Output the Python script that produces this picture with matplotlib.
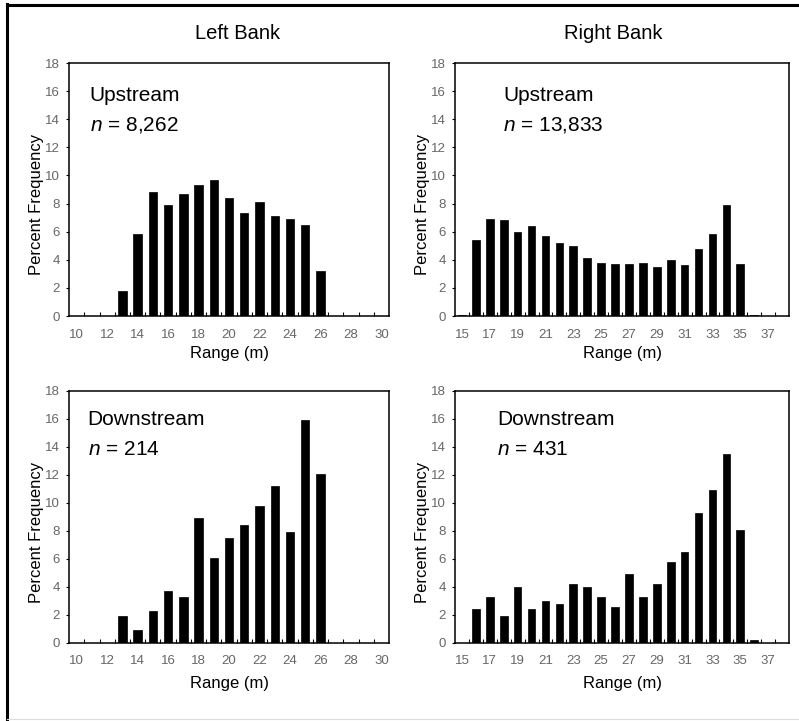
import matplotlib.pyplot as plt
from matplotlib.lines import Line2D
from matplotlib.ticker import FixedLocator

plt.rcParams['font.family'] = ['Liberation Sans', 'DejaVu Sans']
plt.rcParams['mathtext.fontset'] = 'custom'
plt.rcParams['mathtext.it'] = 'Liberation Sans:italic'
plt.rcParams['mathtext.rm'] = 'Liberation Sans'

# range classes (m)
left_range = list(range(10, 31))
right_range = list(range(15, 39))

# percent frequency per range class
left_up = [0, 0, 0, 1.8, 5.8, 8.8, 7.9, 8.7, 9.3, 9.7, 8.4, 7.3, 8.1, 7.1, 6.9, 6.5, 3.2, 0, 0, 0, 0]
right_up = [0.1, 5.4, 6.9, 6.8, 6.0, 6.4, 5.7, 5.2, 5.0, 4.1, 3.8, 3.7, 3.7, 3.8, 3.5, 4.0,
            3.6, 4.8, 5.8, 7.9, 3.7, 0.1, 0, 0]
left_down = [0, 0, 0, 1.9, 0.9, 2.3, 3.7, 3.3, 8.9, 6.1, 7.5, 8.4, 9.8, 11.2, 7.9, 15.9, 12.1, 0, 0, 0, 0]
right_down = [0, 2.4, 3.3, 1.9, 4.0, 2.4, 3.0, 2.8, 4.2, 4.0, 3.3, 2.6, 4.9, 3.3, 4.2, 5.8,
              6.5, 9.3, 10.9, 13.5, 8.1, 0.2, 0, 0]

n_left_up = '8,262'
n_right_up = '13,833'
n_left_down = '214'
n_right_down = '431'

fig = plt.figure(figsize=(7.99, 7.21), dpi=100)

# outer frame
fig.add_artist(Line2D([0.0088, 0.0088], [0, 0.994], color='black', lw=2.2, transform=fig.transFigure))
fig.add_artist(Line2D([0.0088, 1.0], [0.993, 0.993], color='black', lw=2.2, transform=fig.transFigure))
fig.add_artist(Line2D([0.0088, 1.0], [0.003, 0.003], color='#dddddd', lw=0.8, transform=fig.transFigure))

tick_col = '#666666'


def draw_panel(rect, cats, vals, site, n_txt, txt_x, txt_y, lab_x, xlab_pad):
    ax = fig.add_axes(rect)
    pos = list(range(len(cats)))
    ax.bar(pos, vals, width=0.55, color='black', edgecolor='black', linewidth=0.5)
    ax.set_xlim(-0.5, len(cats) - 0.5)
    ax.set_ylim(0, 18)
    ax.set_yticks(range(0, 19, 2))
    ax.set_xticks(pos[::2])
    ax.set_xticklabels([str(c) for c in cats[::2]])
    ax.xaxis.set_minor_locator(FixedLocator([p + 0.5 for p in pos[:-1]]))
    ax.tick_params(axis='x', which='major', length=0, pad=9, labelsize=9.5, labelcolor=tick_col)
    ax.tick_params(axis='x', which='minor', direction='in', length=3, width=0.8)
    ax.tick_params(axis='y', direction='out', length=2.5, width=0.8, pad=4,
                   labelsize=9.5, labelcolor=tick_col)
    for s in ax.spines.values():
        s.set_linewidth(1.1)
    ax.set_xlabel('Range (m)', fontsize=12, labelpad=xlab_pad)
    ax.set_ylabel('Percent Frequency', fontsize=12)
    ax.yaxis.set_label_coords(lab_x, 0.44)
    ax.text(txt_x, txt_y, site, transform=ax.transAxes, fontsize=15, va='center')
    ax.text(txt_x, txt_y - 0.118, r'$n$ = ' + n_txt, transform=ax.transAxes, fontsize=15, va='center')
    return ax


draw_panel([0.0864, 0.5617, 0.4005, 0.3509], left_range, left_up, 'Upstream', n_left_up,
           0.065, 0.873, -0.078, 4)
draw_panel([0.5695, 0.5617, 0.4180, 0.3509], right_range, right_up, 'Upstream', n_right_up,
           0.145, 0.873, -0.075, 4)
draw_panel([0.0864, 0.1082, 0.4005, 0.3495], left_range, left_down, 'Downstream', n_left_down,
           0.058, 0.885, -0.078, 6)
draw_panel([0.5695, 0.1082, 0.4180, 0.3495], right_range, right_down, 'Downstream', n_right_down,
           0.125, 0.885, -0.075, 6)

fig.text(0.297, 0.954, 'Left Bank', ha='center', va='center', fontsize=14.5)
fig.text(0.767, 0.954, 'Right Bank', ha='center', va='center', fontsize=14.5)

fig.savefig('out.png', dpi=100)
